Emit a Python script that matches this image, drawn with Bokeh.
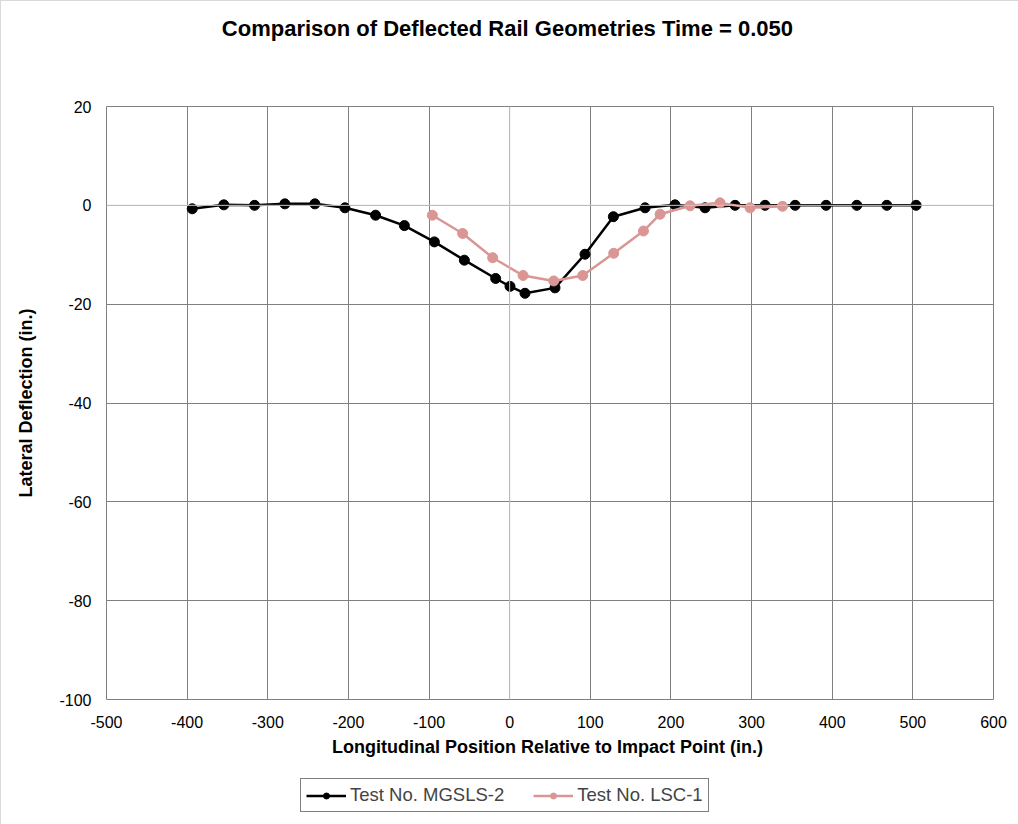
from bokeh.plotting import figure
from bokeh.layouts import column
from bokeh.models import Legend, LegendItem, Span, FixedTicker, Label
from bokeh.embed import file_html
from bokeh.resources import INLINE

# Test No. MGSLS-2
mgsls_x = [-393.7, -354.5, -316.4, -278.8, -241.6, -204.3, -166.3, -130.6, -93.4, -56.2,
           -17.4, 0.4, 19.0, 56.2, 93.4, 128.6, 167.9, 205.0, 242.3, 279.5, 316.7, 354.0,
           392.4, 430.5, 467.7, 504.0]
mgsls_y = [-0.7, 0.1, 0.0, 0.3, 0.3, -0.5, -2.0, -4.1, -7.4, -11.1,
           -14.8, -16.4, -17.8, -16.7, -9.9, -2.3, -0.5, 0.1, -0.5, 0.0, 0.0, 0.0,
           0.0, 0.0, 0.0, 0.0]

# Test No. LSC-1
lsc_x = [-95.9, -58.3, -21.1, 16.6, 54.6, 90.6, 129.0, 165.9, 186.5, 223.7, 260.9, 298.1, 338.3]
lsc_y = [-2.0, -5.7, -10.6, -14.2, -15.3, -14.2, -9.7, -5.2, -1.8, -0.1, 0.5, -0.5, -0.2]

series_names = ["Test No. MGSLS-2", "Test No. LSC-1"]
x_ticks = [-500, -400, -300, -200, -100, 0, 100, 200, 300, 400, 500, 600]
y_ticks = [-100, -80, -60, -40, -20, 0, 20]
title_text = "Comparison of Deflected Rail Geometries  Time = 0.050"

FONT = "Liberation Sans"
PINK = "#D99694"
W = 1018
LEFT, RIGHT = 105, 26

# ---- title strip (frame aligned with the main chart's frame) ----
pt = figure(width=W, height=60, output_backend="svg", toolbar_location=None,
            x_axis_type=None, y_axis_type=None, x_range=(0, 1), y_range=(0, 1),
            min_border_left=LEFT, min_border_right=RIGHT, min_border_top=0,
            min_border_bottom=0, title=None)
pt.outline_line_color = None
pt.add_layout(Label(x=W / 2 - LEFT, y=33, x_units="screen", y_units="screen", text=title_text,
                    text_font=FONT, text_font_size="22px", text_font_style="bold",
                    text_align="center", text_baseline="alphabetic", text_color="black"))

# ---- main chart ----
p = figure(width=W, height=710, output_backend="svg", toolbar_location=None,
           x_range=(-500, 600), y_range=(-100, 20), title=None,
           min_border_left=LEFT, min_border_right=RIGHT, min_border_top=45, min_border_bottom=72)
p.outline_line_color = "#808080"
p.outline_line_width = 1

for ax in (p.xaxis[0], p.yaxis[0]):
    ax.axis_line_color = None
    ax.major_tick_line_color = None
    ax.minor_tick_line_color = None
    ax.major_label_text_font = FONT
    ax.major_label_text_font_size = "16px"
    ax.major_label_text_color = "#000000"
    ax.axis_label_text_font = FONT
    ax.axis_label_text_font_size = "18px"
    ax.axis_label_text_font_style = "bold"
    ax.axis_label_text_color = "#000000"

p.xaxis.ticker = FixedTicker(ticks=x_ticks)
p.yaxis.ticker = FixedTicker(ticks=y_ticks)
p.xaxis.major_label_overrides = {t: str(t) for t in x_ticks}
p.yaxis.major_label_overrides = {t: str(t) for t in y_ticks}
p.xaxis.axis_label = "Longitudinal  Position Relative to Impact Point (in.)"
p.yaxis.axis_label = "Lateral Deflection (in.)"
p.xaxis.major_label_standoff = 10
p.xaxis.axis_label_standoff = 6
p.yaxis.major_label_standoff = 9
p.yaxis.axis_label_standoff = 20

p.xgrid.grid_line_color = "#808080"
p.ygrid.grid_line_color = "#808080"
p.xgrid.grid_line_width = 1
p.ygrid.grid_line_width = 1

p.add_layout(Span(location=0, dimension="height", line_color="#c8c8c8", line_width=1))
p.add_layout(Span(location=0, dimension="width", line_color="#c8c8c8", line_width=1))

p.line(mgsls_x, mgsls_y, line_color="black", line_width=2.5)
p.scatter(mgsls_x, mgsls_y, size=10, fill_color="black", line_color="black")
p.line(lsc_x, lsc_y, line_color=PINK, line_width=2.5)
p.scatter(lsc_x, lsc_y, size=10, fill_color=PINK, line_color=PINK)

# ---- legend strip (hidden copies of the series provide the legend glyphs) ----
pl = figure(width=W, height=54, output_backend="svg", toolbar_location=None,
            x_axis_type=None, y_axis_type=None, x_range=(10000, 10001), y_range=(0, 1),
            min_border_left=LEFT, min_border_right=RIGHT, min_border_top=0,
            min_border_bottom=0, title=None)
pl.outline_line_color = None
k1 = pl.line(mgsls_x, mgsls_y, line_color="black", line_width=2.5, visible=False)
k1m = pl.scatter(mgsls_x, mgsls_y, size=10, fill_color="black", line_color="black", visible=False)
k2 = pl.line(lsc_x, lsc_y, line_color=PINK, line_width=2.5, visible=False)
k2m = pl.scatter(lsc_x, lsc_y, size=10, fill_color=PINK, line_color=PINK, visible=False)

legend = Legend(items=[LegendItem(label=series_names[0], renderers=[k1, k1m]),
                       LegendItem(label=series_names[1], renderers=[k2, k2m])],
                orientation="horizontal", location=(194, 13),
                label_text_font=FONT, label_text_font_size="18.5px",
                border_line_color="black", border_line_width=1,
                glyph_width=40, glyph_height=15, label_standoff=4, spacing=29,
                padding=5, margin=0, background_fill_alpha=1,
                inactive_fill_alpha=0)
pl.add_layout(legend, "center")

layout = column(pt, p, pl, spacing=0, styles={"border": "1px solid #d9d9d9"})
open("out.html", "w").write(file_html(layout, INLINE))
